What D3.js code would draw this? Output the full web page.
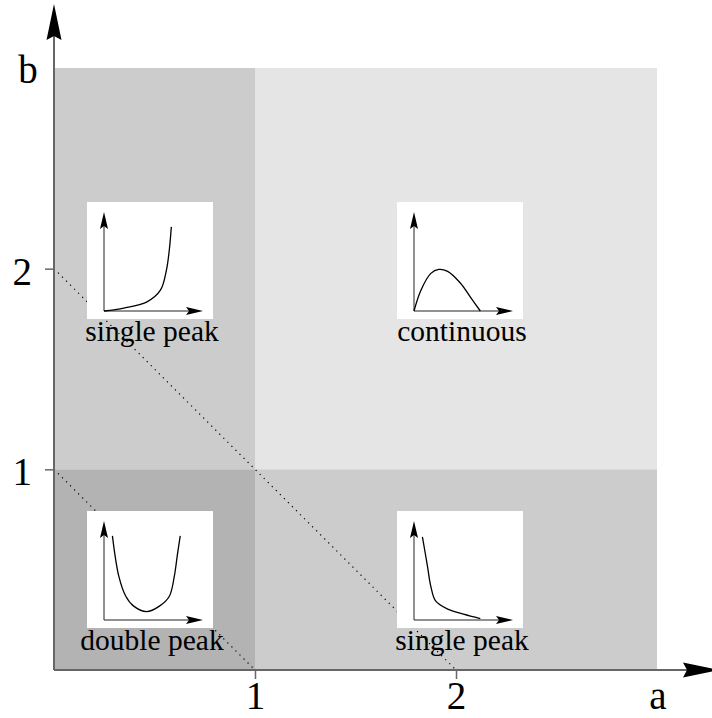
<!DOCTYPE html>
<html>
<head>
<meta charset="utf-8">
<script src="https://cdn.jsdelivr.net/npm/d3@7"></script>
<style>
  body { margin: 0; background: #fff; }
  svg { display: block; font-family: 'Liberation Serif', 'Times New Roman', serif; }
</style>
</head>
<body>
<svg id="chart" width="712" height="718"></svg>
<script>
'use strict';

// parameter plane a / b, four regimes
const aTicks = [1, 2];
const bTicks = [1, 2];
const extent = [0, 3];

// rectangles in (a, b) units: [a0, a1, b0, b1]
const regionBounds = [
    [0, 1, 1, 3],
    [1, 3, 1, 3],
    [0, 1, 0, 1],
    [1, 3, 0, 1]
];
const regionLabels = ['single peak', 'continuous', 'double peak', 'single peak'];
const regionFills = ['#cccccc', '#e5e5e5', '#b3b3b3', '#cccccc'];

// inset centres in (a, b) units
const insetCentres = [[0.48, 2.04], [2.02, 2.04], [0.48, 0.5], [2.02, 0.5]];

// dotted lines a + b = c
const dottedSums = [2, 1];

// sketched densities inside each inset, local 0..1 coords
const curveRising = [[0, 0], [0.2, 0.03], [0.43, 0.09], [0.57, 0.21], [0.63, 0.41], [0.66, 0.62], [0.68, 0.85]];
const curveHump = [[0, 0], [0.07, 0.21], [0.17, 0.38], [0.25, 0.42], [0.34, 0.4], [0.47, 0.28], [0.57, 0.14], [0.67, 0]];
const curveDouble = [[0.085, 0.85], [0.15, 0.44], [0.22, 0.24], [0.3, 0.14], [0.43, 0.085], [0.56, 0.14], [0.66, 0.24], [0.71, 0.44], [0.74, 0.65], [0.77, 0.85]];
const curveFalling = [[0.085, 0.84], [0.135, 0.55], [0.17, 0.34], [0.22, 0.19], [0.34, 0.11], [0.5, 0.06], [0.67, 0.015]];
const insetCurves = [curveRising, curveHump, curveDouble, curveFalling];

const svg = d3.select('#chart');
const x = d3.scaleLinear().domain(extent).range([54, 657]);
const y = d3.scaleLinear().domain(extent).range([670, 68]);

// shaded regions
svg.append('g').selectAll('rect')
    .data(regionBounds)
    .enter()
    .append('rect')
    .attr('x', (d) => x(d[0]))
    .attr('y', (d) => y(d[3]))
    .attr('width', (d) => x(d[1]) - x(d[0]))
    .attr('height', (d) => y(d[2]) - y(d[3]))
    .attr('fill', (d, i) => regionFills[i]);

// dotted diagonals
svg.append('g').selectAll('line')
    .data(dottedSums)
    .enter()
    .append('line')
    .attr('x1', x(0)).attr('y1', (d) => y(d))
    .attr('x2', (d) => x(d)).attr('y2', y(0))
    .attr('stroke', '#000')
    .attr('stroke-width', 1.2)
    .attr('stroke-dasharray', '1.2,4.5');

// arrowhead helper: tip at (0,0) pointing up, rotated by angle
function arrowHead(g, tx, ty, angle, len, half, notch) {
    g.append('path')
        .attr('d', `M0,0 L${-half},${len} L0,${len - notch} L${half},${len} Z`)
        .attr('transform', `translate(${tx},${ty}) rotate(${angle})`)
        .attr('fill', '#000');
}

// insets
const boxW = 126;
const boxH = 117;
const ix = d3.scaleLinear().domain([0, 1]).range([0, 99]);
const iy = d3.scaleLinear().domain([0, 1]).range([0, -99]);
const curveLine = d3.line()
    .x((d) => ix(d[0]))
    .y((d) => iy(d[1]))
    .curve(d3.curveCatmullRom);

insetCentres.forEach((c, i) => {
    let cx = x(c[0]);
    let cy = y(c[1]);
    let left = Math.round(cx - boxW / 2);
    let top = Math.round(cy - boxH / 2);
    let g = svg.append('g');

    g.append('rect')
        .attr('x', left).attr('y', top)
        .attr('width', boxW).attr('height', boxH)
        .attr('fill', '#fff');

    let o = g.append('g').attr('transform', `translate(${left + 17},${top + boxH - 8})`);
    o.append('line').attr('x1', 0).attr('y1', 0).attr('x2', 0).attr('y2', -92)
        .attr('stroke', '#222').attr('stroke-width', 1);
    o.append('line').attr('x1', 0).attr('y1', 0).attr('x2', 92).attr('y2', 0)
        .attr('stroke', '#222').attr('stroke-width', 1);
    arrowHead(o, 0, -99, 0, 17, 4, 3);
    arrowHead(o, 99, 0, 90, 17, 4, 3);

    o.append('path')
        .attr('d', curveLine(insetCurves[i]))
        .attr('fill', 'none')
        .attr('stroke', '#000')
        .attr('stroke-width', 1.3);

    g.append('text')
        .attr('x', left + boxW / 2 + 2)
        .attr('y', top + boxH + 22)
        .attr('text-anchor', 'middle')
        .attr('font-size', 29.5)
        .attr('fill', '#000')
        .text(regionLabels[i]);
});

// axes with ticks
const xAxis = d3.axisBottom(x).tickValues(aTicks).tickFormat(d3.format('d')).tickSize(9).tickPadding(2);
const yAxis = d3.axisLeft(y).tickValues(bTicks).tickFormat(d3.format('d')).tickSize(9).tickPadding(13);

let gx = svg.append('g').attr('transform', `translate(0,${y(0)})`).call(xAxis);
let gy = svg.append('g').attr('transform', `translate(${x(0)},0)`).call(yAxis);
[gx, gy].forEach((g) => {
    g.select('.domain').remove();
    g.selectAll('line').attr('stroke', '#666').attr('stroke-width', 1.5);
    g.selectAll('text')
        .attr('font-size', 39)
        .attr('font-family', "'Liberation Serif', 'Times New Roman', serif")
        .attr('fill', '#000');
});
gy.selectAll('text').attr('dy', '0.4em');

// main axis lines and arrows
svg.append('line')
    .attr('x1', x(0)).attr('y1', y(0)).attr('x2', x(0)).attr('y2', 30)
    .attr('stroke', '#666').attr('stroke-width', 2);
svg.append('line')
    .attr('x1', x(0)).attr('y1', y(0)).attr('x2', 690).attr('y2', y(0))
    .attr('stroke', '#666').attr('stroke-width', 2);
arrowHead(svg, x(0), 4, 0, 36, 7.5, 4);
arrowHead(svg, 719, y(0), 90, 36, 7.5, 4);

// axis names
svg.append('text')
    .attr('x', 28).attr('y', 83)
    .attr('text-anchor', 'middle')
    .attr('font-size', 39)
    .text('b');
svg.append('text')
    .attr('x', 658).attr('y', 709)
    .attr('text-anchor', 'middle')
    .attr('font-size', 39)
    .text('a');
</script>
</body>
</html>
